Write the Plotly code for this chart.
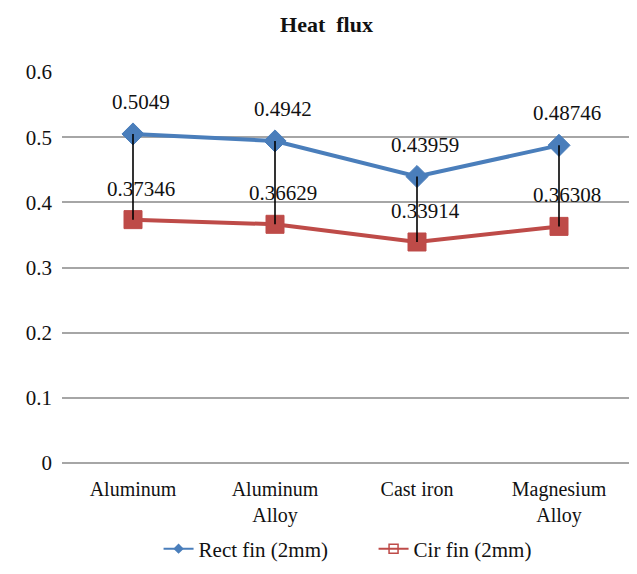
import plotly.graph_objects as go

categories = ["Aluminum", "Aluminum<br>Alloy", "Cast iron", "Magnesium<br>Alloy"]
rect_fin = [0.5049, 0.4942, 0.43959, 0.48746]
cir_fin = [0.37346, 0.36629, 0.33914, 0.36308]
rect_labels = ["0.5049", "0.4942", "0.43959", "0.48746"]
cir_labels = ["0.37346", "0.36629", "0.33914", "0.36308"]
series_names = ["Rect fin (2mm)", "Cir fin (2mm)"]
y_ticks = [0, 0.1, 0.2, 0.3, 0.4, 0.5, 0.6]
y_tick_text = ["0", "0.1", "0.2", "0.3", "0.4", "0.5", "0.6"]

FONT = "Liberation Serif, Times New Roman, serif"
BLUE = "#4a7ebb"
RED = "#be4b48"

fig = go.Figure()
fig.add_trace(go.Scatter(
    x=categories, y=rect_fin, mode="lines+markers", name=series_names[0], showlegend=False,
    line=dict(color=BLUE, width=4),
    marker=dict(symbol="diamond", size=17, color=BLUE, line=dict(color=BLUE, width=1)),
))
fig.add_trace(go.Scatter(
    x=categories, y=cir_fin, mode="lines+markers", name=series_names[1], showlegend=False,
    line=dict(color=RED, width=4),
    marker=dict(symbol="square", size=18, color=RED, line=dict(color=RED, width=1)),
))

# high-low lines
hx, hy = [], []
for c, a, b in zip(categories, rect_fin, cir_fin):
    hx += [c, c, None]
    hy += [a, b, None]
fig.add_trace(go.Scatter(x=hx, y=hy, mode="lines", line=dict(color="black", width=1.6),
                         showlegend=False, hoverinfo="skip"))

# legend entries (small markers as in the reference legend)
fig.add_trace(go.Scatter(x=[None], y=[None], mode="lines+markers", name=series_names[0],
                         line=dict(color=BLUE, width=2),
                         marker=dict(symbol="diamond", size=8, color=BLUE)))
fig.add_trace(go.Scatter(x=[None], y=[None], mode="lines+markers", name=series_names[1],
                         line=dict(color=RED, width=2),
                         marker=dict(symbol="square-open", size=9, color=RED,
                                     line=dict(color=RED, width=1.5))))

annotations = []
for c, v, t in zip(categories, rect_fin, rect_labels):
    annotations.append(dict(x=c, y=v, text=t, showarrow=False, yshift=32, xshift=8,
                            font=dict(family=FONT, size=21, color="#111")))
for c, v, t in zip(categories, cir_fin, cir_labels):
    annotations.append(dict(x=c, y=v, text=t, showarrow=False, yshift=31, xshift=8,
                            font=dict(family=FONT, size=21, color="#111")))

fig.update_layout(
    width=637, height=574,
    margin=dict(l=54, r=15, t=64, b=119, autoexpand=False),
    paper_bgcolor="white", plot_bgcolor="white",
    font=dict(family=FONT, size=21, color="#111"),
    title=dict(text="<b>Heat  flux</b>", x=0.5, xanchor="center", y=0.972, yanchor="middle",
               font=dict(family=FONT, size=22, color="#111")),
    showlegend=True,
    legend=dict(orientation="h", x=0.17, xanchor="left", y=-0.22, yanchor="middle",
                font=dict(family=FONT, size=21, color="#111"),
                entrywidth=170, entrywidthmode="pixels"),
    annotations=annotations,
)
fig.update_xaxes(type="category", range=[-0.5, 3.5], showgrid=False, showline=False,
                 zeroline=False, ticks="", tickfont=dict(family=FONT, size=20, color="#111"),
                 ticklabelstandoff=12)
fig.update_yaxes(range=[0, 0.6], tickvals=y_ticks, ticktext=y_tick_text,
                 showgrid=True, gridcolor="#a6a6a6", gridwidth=1.5,
                 zeroline=True, zerolinecolor="#a6a6a6", zerolinewidth=1.5,
                 showline=False, ticks="", ticklabelstandoff=9,
                 tickfont=dict(family=FONT, size=21, color="#111"))

fig.write_html("out.html")
